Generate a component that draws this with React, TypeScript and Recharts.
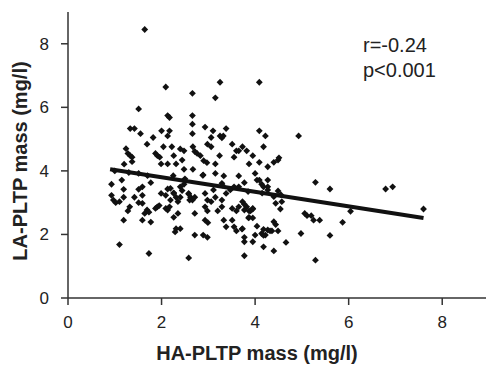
import React from "react";
import {
  ScatterChart,
  Scatter,
  XAxis,
  YAxis,
  ReferenceLine,
} from "recharts";

// HA-PLTP mass (x) and LA-PLTP mass (y)
const haMass = [
  1.64, 2.09, 2.66, 3.25, 3.15, 4.09, 1.51, 2.13, 2.17, 2.66, 2.66, 2.66, 1.33, 1.42, 1.55, 2.0,
  2.17, 2.13, 2.93, 3.1, 3.38, 3.25, 3.32, 3.29, 1.82, 1.69, 2.04, 2.22, 2.4, 2.48, 2.67, 2.71,
  2.76, 2.83, 2.98, 3.06, 3.51, 3.6, 3.65, 3.73, 3.82, 3.95, 4.09, 4.22, 4.18, 4.51, 4.93, 1.24,
  1.28, 1.33, 1.37, 1.87, 1.91, 1.96, 2.26, 3.24, 3.06, 1.37, 2.9, 2.97, 1.99, 2.13, 2.31, 2.44,
  2.48, 2.67, 3.15, 3.15, 3.33, 3.55, 4.09, 3.87, 4.4, 4.49, 4.0, 3.65, 4.09, 4.27, 4.14, 3.77,
  2.89, 1.77, 1.51, 1.15, 0.93, 1.19, 0.93, 0.97, 1.02, 1.1, 1.19, 1.42, 1.51, 1.59, 1.59, 1.51,
  1.59, 1.32, 1.28, 1.69, 1.64, 1.73, 1.19, 1.59, 1.77, 1.1, 1.73, 2.58, 1.87, 1.91, 1.95, 1.99,
  2.13, 2.09, 2.26, 2.31, 2.35, 2.4, 2.44, 2.4, 2.58, 2.48, 2.62, 2.66, 2.71, 2.09, 2.13, 2.17,
  2.35, 2.26, 2.31, 2.4, 2.71, 2.71, 2.89, 2.98, 2.93, 2.98, 2.93, 2.98, 2.93, 3.06, 3.15, 3.2,
  3.29, 3.29, 3.38, 3.33, 3.38, 3.51, 3.55, 3.6, 3.73, 3.51, 3.6, 3.65, 3.73, 3.77, 3.82, 3.87,
  3.95, 3.87, 3.77, 3.77, 3.95, 4.0, 4.14, 4.18, 4.27, 4.36, 4.22, 4.18, 4.4, 3.77, 4.04, 4.4,
  4.44, 4.4, 4.27, 4.18, 3.47, 3.65, 3.11, 3.29, 4.27, 4.04, 4.27, 4.49, 4.57, 4.54, 5.29, 5.6,
  6.79, 6.94, 7.6, 6.04, 5.06, 5.11, 5.2, 5.25, 5.38, 5.87, 4.98, 5.6, 5.29, 4.66, 4.18, 4.32,
  4.49, 4.44, 3.77, 3.95, 3.9, 3.86, 3.95, 3.72, 1.2, 2.19, 2.26, 2.58, 2.6, 2.19, 2.99, 2.29,
  2.88, 2.25, 2.5, 3.3, 3.55, 3.85, 4.15, 4.55, 1.3, 1.7, 1.0,
];
const laMass = [
  8.45, 6.64, 6.44, 6.79, 6.3, 6.79, 5.95, 5.74, 5.68, 5.74, 5.47, 5.17, 5.33, 5.33, 5.17, 5.26,
  5.26, 5.1, 5.38, 5.26, 5.33, 5.1, 5.1, 5.04, 5.05, 4.84, 4.76, 4.76, 4.69, 4.63, 4.76, 4.61,
  4.55, 4.48, 4.84, 4.76, 4.84, 4.63, 4.63, 4.76, 4.63, 4.48, 5.26, 5.1, 4.76, 4.41, 5.1, 4.7,
  4.55, 4.48, 4.43, 4.55, 4.48, 4.43, 4.48, 4.48, 5.05, 4.29, 4.32, 4.26, 4.22, 4.22, 4.22, 4.34,
  4.05, 4.05, 4.22, 3.92, 3.84, 4.43, 4.27, 4.22, 4.27, 4.34, 3.92, 3.84, 3.71, 3.71, 3.58, 3.63,
  3.87, 3.63, 3.92, 3.71, 3.58, 3.42, 3.23, 3.08, 3.0, 3.03, 3.17, 3.17, 3.42, 3.5, 3.23, 3.0,
  2.98, 2.87, 2.74, 2.77, 2.66, 2.7, 2.45, 2.45, 2.39, 1.68, 1.4, 1.26, 2.82, 2.87, 2.91, 3.29,
  3.43, 3.23, 3.29, 3.17, 3.03, 3.5, 3.38, 3.17, 3.29, 3.58, 3.17, 3.08, 3.17, 2.82, 2.77, 2.87,
  2.66, 2.54, 2.18, 2.18, 2.66, 1.98, 1.98, 1.91, 3.29, 3.08, 2.87, 2.74, 2.45, 3.03, 3.17, 2.74,
  2.87, 3.08, 3.29, 2.45, 2.24, 2.45, 2.24, 2.11, 2.18, 2.82, 2.74, 2.87, 3.03, 2.77, 2.87, 2.74,
  2.82, 2.54, 1.91, 1.77, 1.77, 1.98, 2.03, 2.16, 2.14, 2.11, 1.98, 1.61, 1.48, 1.33, 2.26, 2.4,
  2.98, 3.19, 3.4, 3.5, 3.4, 3.5, 3.4, 3.61, 4.13, 3.71, 3.5, 3.37, 3.03, 2.8, 3.64, 3.43,
  3.43, 3.5, 2.8, 2.73, 2.66, 2.59, 2.59, 2.45, 2.45, 2.38, 2.03, 1.97, 1.19, 1.75, 1.97, 2.11,
  2.11, 2.31, 2.95, 2.8, 2.74, 2.52, 2.52, 2.17, 4.21, 3.45, 3.31, 3.27, 3.08, 3.08, 2.37, 2.08,
  3.86, 3.85, 3.75, 3.55, 3.5, 3.35, 3.3, 3.25, 3.95, 3.85, 4.0,
];

// fitted regression line end points
const fitX = [0.9, 7.6];
const fitY = [4.05, 2.52];

const axisTicks = [0, 2, 4, 6, 8];

const points = haMass.map((x, i) => ({ x, y: laMass[i] }));

const Diamond = (props: any) => {
  const { cx, cy } = props;
  const r = 3.4;
  return (
    <path
      d={`M${cx},${cy - r}L${cx + r},${cy}L${cx},${cy + r}L${cx - r},${cy}Z`}
      fill="#111"
    />
  );
};

const font = "'Liberation Sans', Arial, sans-serif";

export default function App() {
  return (
    <div
      style={{
        position: "absolute",
        left: 0,
        top: 0,
        width: 486,
        height: 366,
        overflow: "hidden",
        background: "#fff",
        fontFamily: font,
      }}
    >
      <ScatterChart
        width={489}
        height={366}
        margin={{ top: 12, right: 0, bottom: 0, left: 0 }}
      >
        <XAxis
          xAxisId="top"
          orientation="top"
          type="number"
          dataKey="x"
          domain={[0, 9]}
          height={0}
          tick={false}
          tickLine={false}
          axisLine={{ stroke: "#333", strokeWidth: 1.5 }}
        />
        <YAxis
          yAxisId="right"
          orientation="right"
          type="number"
          dataKey="y"
          domain={[0, 9]}
          width={0}
          tick={false}
          tickLine={false}
          axisLine={{ stroke: "#333", strokeWidth: 1.5 }}
        />
        <XAxis
          type="number"
          dataKey="x"
          domain={[0, 9]}
          ticks={axisTicks}
          height={68}
          tickSize={7}
          tickMargin={11}
          axisLine={{ stroke: "#333", strokeWidth: 1.5 }}
          tickLine={{ stroke: "#333", strokeWidth: 1.5 }}
          tick={{ fill: "#222", fontSize: 17, fontFamily: font }}
          label={{
            content: ({ viewBox }: any) => (
              <text
                x={viewBox.x + 189}
                y={viewBox.y + 57}
                textAnchor="middle"
                dominantBaseline="middle"
                fontSize={20}
                fontWeight="bold"
                fontFamily={font}
                fill="#222"
              >
                HA-PLTP mass (mg/l)
              </text>
            ),
          }}
        />
        <YAxis
          type="number"
          dataKey="y"
          domain={[0, 9]}
          ticks={axisTicks}
          width={68}
          tickSize={7}
          tickMargin={12}
          axisLine={{ stroke: "#333", strokeWidth: 1.5 }}
          tickLine={{ stroke: "#333", strokeWidth: 1.5 }}
          tick={{ fill: "#222", fontSize: 17, fontFamily: font }}
          label={{
            content: ({ viewBox }: any) => {
              const x = viewBox.x + 22;
              const y = viewBox.y + viewBox.height / 2 + 6;
              return (
                <text
                  x={x}
                  y={y}
                  transform={`rotate(-90, ${x}, ${y})`}
                  textAnchor="middle"
                  dominantBaseline="middle"
                  fontSize={20}
                  fontWeight="bold"
                  fontFamily={font}
                  fill="#222"
                >
                  LA-PLTP mass (mg/l)
                </text>
              );
            },
          }}
        />
        <Scatter
          data={points}
          shape={Diamond}
          isAnimationActive={false}
        />
        <ReferenceLine
          segment={[
            { x: fitX[0], y: fitY[0] },
            { x: fitX[1], y: fitY[1] },
          ]}
          stroke="#111"
          strokeWidth={4}
        />
      </ScatterChart>
      <div
        style={{
          position: "absolute",
          left: 363,
          top: 33,
          fontSize: 20,
          lineHeight: "25px",
          color: "#222",
          fontFamily: font,
        }}
      >
        r=-0.24
        <br />
        p&lt;0.001
      </div>
    </div>
  );
}
